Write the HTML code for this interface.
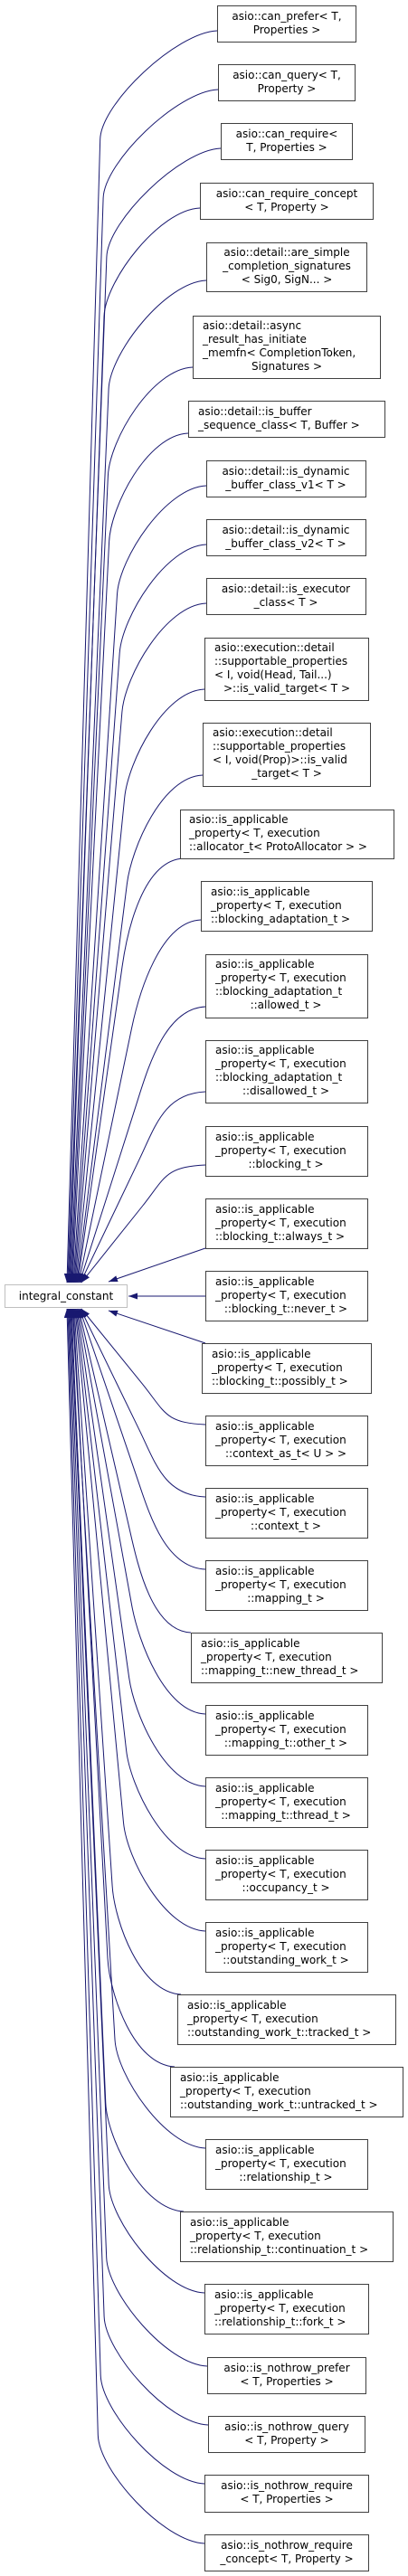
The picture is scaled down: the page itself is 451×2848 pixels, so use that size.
<!DOCTYPE html>
<html><head><meta charset="utf-8"><style>
html,body{margin:0;padding:0;background:#fff;}
svg{display:block;}
text{font-family:"DejaVu Sans","Liberation Sans",sans-serif;font-size:12px;fill:#000;}
.b{fill:#fff;stroke:#404040;stroke-width:1;}
</style></head><body>
<svg id="s" width="451" height="2848" viewBox="0 0 451 2848" xmlns="http://www.w3.org/2000/svg">
<defs><marker id="a" markerUnits="userSpaceOnUse" markerWidth="11" markerHeight="8" refX="10" refY="3.5" orient="auto"><path d="M0,0 L10,3.5 L0,7 z" fill="#191970"/></marker></defs>
<g id="edges" fill="none" stroke="#191970" stroke-width="1"></g>
<g>
<rect x="5.5" y="1420.5" width="135" height="25" fill="#fff" stroke="#bfbfbf"/>
<text x="73" y="1437" text-anchor="middle">integral_constant</text>

<rect class="b" x="240.5" y="6.5" width="153" height="40"/>
<text x="317" y="22" text-anchor="middle">asio::can_prefer&lt; T,</text><text x="317" y="37" text-anchor="middle">Properties &gt;</text>
<rect class="b" x="241.5" y="71.5" width="151" height="40"/>
<text x="317" y="87" text-anchor="middle">asio::can_query&lt; T,</text><text x="317" y="102" text-anchor="middle">Property &gt;</text>
<rect class="b" x="244.5" y="136.5" width="145" height="40"/>
<text x="317" y="152" text-anchor="middle">asio::can_require&lt;</text><text x="317" y="167" text-anchor="middle">T, Properties &gt;</text>
<rect class="b" x="221.5" y="202.5" width="191" height="40"/>
<text x="317" y="218" text-anchor="middle">asio::can_require_concept</text><text x="317" y="233" text-anchor="middle">&lt; T, Property &gt;</text>
<rect class="b" x="228.5" y="268.5" width="177" height="54"/>
<text x="317" y="283" text-anchor="middle">asio::detail::are_simple</text><text x="317" y="298" text-anchor="middle">_completion_signatures</text><text x="317" y="313" text-anchor="middle">&lt; Sig0, SigN... &gt;</text>
<rect class="b" x="213.5" y="349.5" width="207" height="69"/>
<text x="224" y="364">asio::detail::async</text><text x="224" y="379">_result_has_initiate</text><text x="224" y="394">_memfn&lt; CompletionToken,</text><text x="317" y="409" text-anchor="middle">Signatures &gt;</text>
<rect class="b" x="208.5" y="443.5" width="217" height="40"/>
<text x="219" y="459">asio::detail::is_buffer</text><text x="219" y="474">_sequence_class&lt; T, Buffer &gt;</text>
<rect class="b" x="228.5" y="509.5" width="176" height="40"/>
<text x="316" y="525" text-anchor="middle">asio::detail::is_dynamic</text><text x="316" y="540" text-anchor="middle">_buffer_class_v1&lt; T &gt;</text>
<rect class="b" x="228.5" y="574.5" width="176" height="40"/>
<text x="316" y="590" text-anchor="middle">asio::detail::is_dynamic</text><text x="316" y="605" text-anchor="middle">_buffer_class_v2&lt; T &gt;</text>
<rect class="b" x="228.5" y="639.5" width="176" height="40"/>
<text x="316" y="655" text-anchor="middle">asio::detail::is_executor</text><text x="316" y="670" text-anchor="middle">_class&lt; T &gt;</text>
<rect class="b" x="226.5" y="705.5" width="181" height="69"/>
<text x="237" y="720">asio::execution::detail</text><text x="237" y="735">::supportable_properties</text><text x="237" y="750">&lt; I, void(Head, Tail...)</text><text x="317" y="765" text-anchor="middle">&gt;::is_valid_target&lt; T &gt;</text>
<rect class="b" x="224.5" y="799.5" width="185" height="70"/>
<text x="235" y="814">asio::execution::detail</text><text x="235" y="829">::supportable_properties</text><text x="235" y="844">&lt; I, void(Prop)&gt;::is_valid</text><text x="317" y="859" text-anchor="middle">_target&lt; T &gt;</text>
<rect class="b" x="199.5" y="895.5" width="236" height="54"/>
<text x="209" y="910">asio::is_applicable</text><text x="209" y="925">_property&lt; T, execution</text><text x="209" y="940">::allocator_t&lt; ProtoAllocator &gt; &gt;</text>
<rect class="b" x="222.5" y="974.5" width="189" height="55"/>
<text x="233" y="990">asio::is_applicable</text><text x="233" y="1005">_property&lt; T, execution</text><text x="233" y="1020">::blocking_adaptation_t &gt;</text>
<rect class="b" x="227.5" y="1055.5" width="179" height="70"/>
<text x="238" y="1070">asio::is_applicable</text><text x="238" y="1085">_property&lt; T, execution</text><text x="238" y="1100">::blocking_adaptation_t</text><text x="316" y="1115" text-anchor="middle">::allowed_t &gt;</text>
<rect class="b" x="227.5" y="1150.5" width="179" height="69"/>
<text x="238" y="1165">asio::is_applicable</text><text x="238" y="1180">_property&lt; T, execution</text><text x="238" y="1195">::blocking_adaptation_t</text><text x="316" y="1210" text-anchor="middle">::disallowed_t &gt;</text>
<rect class="b" x="227.5" y="1245.5" width="179" height="55"/>
<text x="238" y="1261">asio::is_applicable</text><text x="238" y="1276">_property&lt; T, execution</text><text x="316" y="1291" text-anchor="middle">::blocking_t &gt;</text>
<rect class="b" x="227.5" y="1325.5" width="179" height="55"/>
<text x="238" y="1341">asio::is_applicable</text><text x="238" y="1356">_property&lt; T, execution</text><text x="238" y="1371">::blocking_t::always_t &gt;</text>
<rect class="b" x="227.5" y="1405.5" width="179" height="55"/>
<text x="238" y="1421">asio::is_applicable</text><text x="238" y="1436">_property&lt; T, execution</text><text x="316" y="1451" text-anchor="middle">::blocking_t::never_t &gt;</text>
<rect class="b" x="223.5" y="1485.5" width="187" height="55"/>
<text x="234" y="1501">asio::is_applicable</text><text x="234" y="1516">_property&lt; T, execution</text><text x="234" y="1531">::blocking_t::possibly_t &gt;</text>
<rect class="b" x="227.5" y="1565.5" width="179" height="55"/>
<text x="238" y="1581">asio::is_applicable</text><text x="238" y="1596">_property&lt; T, execution</text><text x="316" y="1611" text-anchor="middle">::context_as_t&lt; U &gt; &gt;</text>
<rect class="b" x="227.5" y="1645.5" width="179" height="55"/>
<text x="238" y="1661">asio::is_applicable</text><text x="238" y="1676">_property&lt; T, execution</text><text x="316" y="1691" text-anchor="middle">::context_t &gt;</text>
<rect class="b" x="227.5" y="1725.5" width="179" height="55"/>
<text x="238" y="1741">asio::is_applicable</text><text x="238" y="1756">_property&lt; T, execution</text><text x="316" y="1771" text-anchor="middle">::mapping_t &gt;</text>
<rect class="b" x="211.5" y="1805.5" width="211" height="55"/>
<text x="222" y="1821">asio::is_applicable</text><text x="222" y="1836">_property&lt; T, execution</text><text x="222" y="1851">::mapping_t::new_thread_t &gt;</text>
<rect class="b" x="227.5" y="1885.5" width="179" height="55"/>
<text x="238" y="1901">asio::is_applicable</text><text x="238" y="1916">_property&lt; T, execution</text><text x="316" y="1931" text-anchor="middle">::mapping_t::other_t &gt;</text>
<rect class="b" x="227.5" y="1965.5" width="179" height="55"/>
<text x="238" y="1981">asio::is_applicable</text><text x="238" y="1996">_property&lt; T, execution</text><text x="316" y="2011" text-anchor="middle">::mapping_t::thread_t &gt;</text>
<rect class="b" x="227.5" y="2045.5" width="179" height="55"/>
<text x="238" y="2061">asio::is_applicable</text><text x="238" y="2076">_property&lt; T, execution</text><text x="316" y="2091" text-anchor="middle">::occupancy_t &gt;</text>
<rect class="b" x="227.5" y="2125.5" width="179" height="55"/>
<text x="238" y="2141">asio::is_applicable</text><text x="238" y="2156">_property&lt; T, execution</text><text x="316" y="2171" text-anchor="middle">::outstanding_work_t &gt;</text>
<rect class="b" x="196.5" y="2205.5" width="241" height="55"/>
<text x="207" y="2221">asio::is_applicable</text><text x="207" y="2236">_property&lt; T, execution</text><text x="207" y="2251">::outstanding_work_t::tracked_t &gt;</text>
<rect class="b" x="188.5" y="2285.5" width="257" height="55"/>
<text x="199" y="2301">asio::is_applicable</text><text x="199" y="2316">_property&lt; T, execution</text><text x="199" y="2331">::outstanding_work_t::untracked_t &gt;</text>
<rect class="b" x="227.5" y="2365.5" width="179" height="55"/>
<text x="238" y="2381">asio::is_applicable</text><text x="238" y="2396">_property&lt; T, execution</text><text x="316" y="2411" text-anchor="middle">::relationship_t &gt;</text>
<rect class="b" x="199.5" y="2445.5" width="235" height="55"/>
<text x="210" y="2461">asio::is_applicable</text><text x="210" y="2476">_property&lt; T, execution</text><text x="210" y="2491">::relationship_t::continuation_t &gt;</text>
<rect class="b" x="226.5" y="2525.5" width="181" height="55"/>
<text x="237" y="2541">asio::is_applicable</text><text x="237" y="2556">_property&lt; T, execution</text><text x="237" y="2571">::relationship_t::fork_t &gt;</text>
<rect class="b" x="229.5" y="2606.5" width="175" height="40"/>
<text x="317" y="2622" text-anchor="middle">asio::is_nothrow_prefer</text><text x="317" y="2637" text-anchor="middle">&lt; T, Properties &gt;</text>
<rect class="b" x="230.5" y="2671.5" width="173" height="40"/>
<text x="317" y="2687" text-anchor="middle">asio::is_nothrow_query</text><text x="317" y="2702" text-anchor="middle">&lt; T, Property &gt;</text>
<rect class="b" x="226.5" y="2736.5" width="181" height="41"/>
<text x="317" y="2752" text-anchor="middle">asio::is_nothrow_require</text><text x="317" y="2767" text-anchor="middle">&lt; T, Properties &gt;</text>
<rect class="b" x="226.5" y="2802.5" width="181" height="40"/>
<text x="317" y="2818" text-anchor="middle">asio::is_nothrow_require</text><text x="317" y="2833" text-anchor="middle">_concept&lt; T, Property &gt;</text>
</g>
</svg>
<script>
(function(){
var top=[[240,46],[241,111],[244,176],[221,242],[228,322],[213,418],[208,483],[228,549],[228,614],[228,679],[226,774],[224,869],[203,949],[222,1029],[227,1125],[227,1219],[227,1300]];
var bot=[[227,1565],[227,1645],[227,1725],[211,1805],[227,1885],[227,1965],[227,2045],[227,2125],[200,2205],[193,2285],[227,2365],[203,2445],[226,2525],[229,2606],[230,2671],[226,2736],[226,2802]];
var g=document.getElementById('edges'),ns='http://www.w3.org/2000/svg';
function add(d){var p=document.createElementNS(ns,'path');p.setAttribute('d',d);p.setAttribute('marker-end','url(#a)');g.appendChild(p);}
function curve(sx,sy,ex,ey){
 var dy=Math.abs(ey-sy),s=ey>sy?1:-1;
 var by=sy+s*Math.min(120,dy*0.35);
 var f=0.22+0.3*Math.max(0,1-dy/1390);
 var bx=ex+(sx-ex)*f;
 var vx=bx-ex,vy=by-ey,l=Math.sqrt(vx*vx+vy*vy);vx/=l;vy/=l;
 var p2x=bx+vx*40,p2y=by+vy*40;
 add('M'+sx+','+sy+' C'+(sx-45)+','+(sy+s*2)+' '+p2x.toFixed(1)+','+p2y.toFixed(1)+' '+bx.toFixed(1)+','+by.toFixed(1)+' L'+ex+','+ey);
}
top.forEach(function(b,i){var sx=b[0],sy=b[1]-12;if(i==12){sx=203;sy=949;}if(i==6){sy=479;}curve(sx,sy,74+i,1418);});
bot.forEach(function(b,i){var sy=b[1]+10;if(i==3||i==8||i==9||i==11){sy=b[1];}curve(b[0],sy,90-i,1447);});
add('M227,1380 L120,1417');
add('M227,1433 L142,1433');
add('M227,1485 L120,1449');
})();
</script>
</body></html>
